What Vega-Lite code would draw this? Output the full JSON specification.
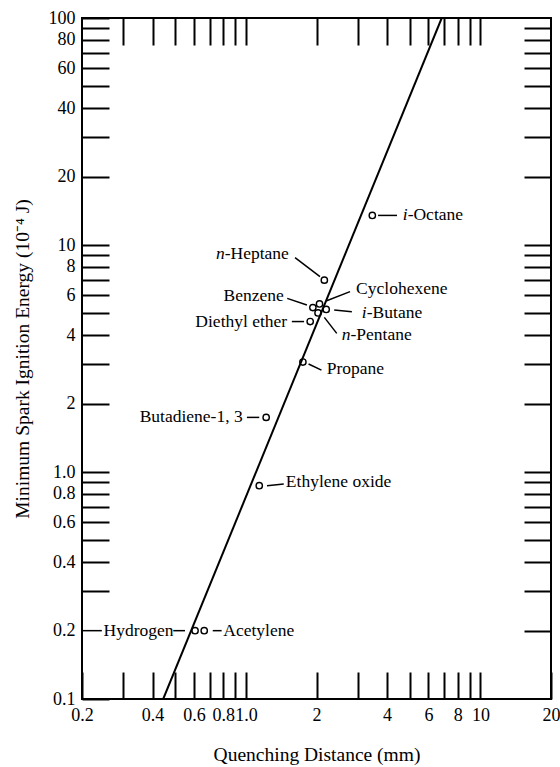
{
  "$schema": "https://vega.github.io/schema/vega-lite/v6.json",
  "width": 469,
  "height": 681,
  "autosize": "none",
  "padding": {"left": 82, "top": 18, "right": 9, "bottom": 68},
  "background": "white",
  "config": {
    "view": {"stroke": "#000", "strokeWidth": 2},
    "font": "Liberation Serif",
    "axis": {
      "domain": false,
      "grid": false,
      "tickColor": "#000",
      "tickWidth": 2,
      "labelColor": "#000",
      "labelFont": "Liberation Serif",
      "labelFontSize": 18,
      "labelFlush": false,
      "labelOverlap": false,
      "labelBound": false,
      "titleFont": "Liberation Serif",
      "titleFontWeight": "normal",
      "titleFontSize": 19.5,
      "titleColor": "#000"
    },
    "text": {"font": "Liberation Serif", "fontSize": 17.5, "color": "#000", "baseline": "middle"}
  },
  "datasets": {
    "fit": [
      {"d": 0.444, "E": 0.1},
      {"d": 6.84, "E": 100}
    ],
    "fuels": [
      {"fuel": "i-Octane", "d": 3.46, "E": 13.5},
      {"fuel": "n-Heptane", "d": 2.16, "E": 7.0},
      {"fuel": "Cyclohexene", "d": 2.06, "E": 5.5},
      {"fuel": "Benzene", "d": 1.93, "E": 5.3},
      {"fuel": "i-Butane", "d": 2.2, "E": 5.2},
      {"fuel": "n-Pentane", "d": 2.03, "E": 5.02},
      {"fuel": "Diethyl ether", "d": 1.88, "E": 4.6},
      {"fuel": "Propane", "d": 1.75, "E": 3.05},
      {"fuel": "Butadiene-1, 3", "d": 1.22, "E": 1.74},
      {"fuel": "Ethylene oxide", "d": 1.14, "E": 0.87},
      {"fuel": "Hydrogen", "d": 0.607, "E": 0.2},
      {"fuel": "Acetylene", "d": 0.664, "E": 0.2}
    ],
    "leaders": [
      {"fuel": "i-Octane", "x": 3.66, "y": 13.5, "x2": 4.41, "y2": 13.5},
      {"fuel": "n-Heptane", "x": 1.62, "y": 8.79, "x2": 2.07, "y2": 7.25},
      {"fuel": "Benzene", "x": 1.5, "y": 5.82, "x2": 1.82, "y2": 5.44},
      {"fuel": "Cyclohexene", "x": 2.78, "y": 6.23, "x2": 2.21, "y2": 5.68},
      {"fuel": "i-Butane", "x": 2.38, "y": 5.17, "x2": 2.83, "y2": 5.08},
      {"fuel": "Diethyl ether", "x": 1.57, "y": 4.6, "x2": 1.77, "y2": 4.6},
      {"fuel": "n-Pentane", "x": 2.16, "y": 4.8, "x2": 2.44, "y2": 4.08},
      {"fuel": "Propane", "x": 1.85, "y": 2.99, "x2": 2.1, "y2": 2.81},
      {"fuel": "Butadiene-1, 3", "x": 1.01, "y": 1.74, "x2": 1.14, "y2": 1.74},
      {"fuel": "Ethylene oxide", "x": 1.23, "y": 0.87, "x2": 1.45, "y2": 0.886},
      {"fuel": "Hydrogen", "x": 0.2, "y": 0.2, "x2": 0.243, "y2": 0.2},
      {"fuel": "Hydrogen", "x": 0.49, "y": 0.2, "x2": 0.55, "y2": 0.2},
      {"fuel": "Acetylene", "x": 0.722, "y": 0.2, "x2": 0.788, "y2": 0.2}
    ],
    "labels": [
      {"text": "Benzene", "lx": 1.45, "ly": 5.98, "side": "right"},
      {"text": "Diethyl ether", "lx": 1.5, "ly": 4.6, "side": "right"},
      {"text": "Butadiene-1, 3", "lx": 0.969, "ly": 1.74, "side": "right"},
      {"text": "Cyclohexene", "lx": 2.95, "ly": 6.38, "side": "left"},
      {"text": "Propane", "lx": 2.21, "ly": 2.83, "side": "left"},
      {"text": "Ethylene oxide", "lx": 1.48, "ly": 0.906, "side": "left"},
      {"text": "Hydrogen", "lx": 0.247, "ly": 0.2, "side": "left"},
      {"text": "Acetylene", "lx": 0.801, "ly": 0.2, "side": "left"}
    ],
    "isomers": [
      {"prefix": "i", "rest": "-Octane", "lx": 4.66, "ly": 13.5},
      {"prefix": "i", "rest": "-Butane", "lx": 3.12, "ly": 5.03},
      {"prefix": "n", "rest": "-Pentane", "lx": 2.56, "ly": 4.0},
      {"prefix": "n", "rest": "-Heptane", "lx": 0.745, "ly": 9.13}
    ]
  },
  "layer": [
    {
      "data": {"name": "fit"},
      "mark": {"type": "line", "color": "#000", "strokeWidth": 2, "clip": true},
      "encoding": {
        "x": {
          "field": "d", "type": "quantitative",
          "scale": {"type": "log", "domain": [0.2, 20], "nice": false},
          "axis": {
            "orient": "top", "title": null, "labels": false, "tickSize": -27,
            "values": [0.3, 0.4, 0.5, 0.6, 0.7, 0.8, 0.9, 1, 2, 3, 4, 5, 6, 7, 8, 9, 10]
          }
        },
        "y": {
          "field": "E", "type": "quantitative",
          "scale": {"type": "log", "domain": [0.1, 100], "nice": false},
          "axis": {
            "orient": "right", "title": null, "labels": false, "tickSize": -27,
            "values": [0.2, 0.3, 0.4, 0.5, 0.6, 0.7, 0.8, 0.9, 1, 2, 3, 4, 5, 6, 7, 8, 9, 10, 20, 30, 40, 50, 60, 70, 80, 90]
          }
        }
      }
    },
    {
      "data": {"name": "fuels"},
      "mark": {"type": "point", "shape": "circle", "filled": false, "stroke": "#000", "strokeWidth": 1.4, "size": 40, "opacity": 1},
      "encoding": {
        "x": {
          "field": "d", "type": "quantitative",
          "scale": {"type": "log", "domain": [0.2, 20], "nice": false},
          "axis": {
            "orient": "bottom", "title": "Quenching Distance (mm)", "tickSize": -27,
            "labelPadding": 34, "titlePadding": 21,
            "values": [0.2, 0.3, 0.4, 0.5, 0.6, 0.7, 0.8, 0.9, 1, 2, 3, 4, 5, 6, 7, 8, 9, 10, 20],
            "labelExpr": "datum.value == 1 ? '1.0' : (indexof([0.2, 0.4, 0.6, 0.8, 2, 4, 6, 8, 10, 20], datum.value) >= 0 ? '' + datum.value : '')"
          }
        },
        "y": {
          "field": "E", "type": "quantitative",
          "scale": {"type": "log", "domain": [0.1, 100], "nice": false},
          "axis": {
            "orient": "left", "title": "Minimum Spark Ignition Energy (10⁻⁴ J)", "tickSize": -27,
            "labelPadding": 34, "titlePadding": 16,
            "tickOpacity": {"condition": {"test": "datum.value == 0.2", "value": 0}, "value": 1},
            "values": [0.1, 0.2, 0.3, 0.4, 0.5, 0.6, 0.7, 0.8, 0.9, 1, 2, 3, 4, 5, 6, 7, 8, 9, 10, 20, 30, 40, 50, 60, 70, 80, 90, 100],
            "labelExpr": "datum.value == 1 ? '1.0' : (indexof([0.1, 0.2, 0.4, 0.6, 0.8, 2, 4, 6, 8, 10, 20, 40, 60, 80, 100], datum.value) >= 0 ? '' + datum.value : '')"
          }
        }
      }
    },
    {
      "data": {"name": "leaders"},
      "mark": {"type": "rule", "color": "#000", "strokeWidth": 1.5},
      "encoding": {
        "x": {"field": "x", "type": "quantitative", "scale": {"type": "log", "domain": [0.2, 20], "nice": false}, "axis": null},
        "y": {"field": "y", "type": "quantitative", "scale": {"type": "log", "domain": [0.1, 100], "nice": false}, "axis": null},
        "x2": {"field": "x2"},
        "y2": {"field": "y2"}
      }
    },
    {
      "data": {"name": "labels"},
      "transform": [{"filter": "datum.side == 'right'"}],
      "mark": {"type": "text", "align": "right"},
      "encoding": {
        "x": {"field": "lx", "type": "quantitative", "scale": {"type": "log", "domain": [0.2, 20], "nice": false}, "axis": null},
        "y": {"field": "ly", "type": "quantitative", "scale": {"type": "log", "domain": [0.1, 100], "nice": false}, "axis": null},
        "text": {"field": "text"}
      }
    },
    {
      "data": {"name": "labels"},
      "transform": [{"filter": "datum.side == 'left'"}],
      "mark": {"type": "text", "align": "left"},
      "encoding": {
        "x": {"field": "lx", "type": "quantitative", "scale": {"type": "log", "domain": [0.2, 20], "nice": false}, "axis": null},
        "y": {"field": "ly", "type": "quantitative", "scale": {"type": "log", "domain": [0.1, 100], "nice": false}, "axis": null},
        "text": {"field": "text"}
      }
    },
    {
      "data": {"name": "isomers"},
      "mark": {"type": "text", "align": "left", "fontStyle": "italic"},
      "encoding": {
        "x": {"field": "lx", "type": "quantitative", "scale": {"type": "log", "domain": [0.2, 20], "nice": false}, "axis": null},
        "y": {"field": "ly", "type": "quantitative", "scale": {"type": "log", "domain": [0.1, 100], "nice": false}, "axis": null},
        "text": {"field": "prefix"}
      }
    },
    {
      "data": {"name": "isomers"},
      "transform": [{"filter": "datum.prefix == 'i'"}],
      "mark": {"type": "text", "align": "left", "dx": 5},
      "encoding": {
        "x": {"field": "lx", "type": "quantitative", "scale": {"type": "log", "domain": [0.2, 20], "nice": false}, "axis": null},
        "y": {"field": "ly", "type": "quantitative", "scale": {"type": "log", "domain": [0.1, 100], "nice": false}, "axis": null},
        "text": {"field": "rest"}
      }
    },
    {
      "data": {"name": "isomers"},
      "transform": [{"filter": "datum.prefix == 'n'"}],
      "mark": {"type": "text", "align": "left", "dx": 8.8},
      "encoding": {
        "x": {"field": "lx", "type": "quantitative", "scale": {"type": "log", "domain": [0.2, 20], "nice": false}, "axis": null},
        "y": {"field": "ly", "type": "quantitative", "scale": {"type": "log", "domain": [0.1, 100], "nice": false}, "axis": null},
        "text": {"field": "rest"}
      }
    }
  ],
  "resolve": {"axis": {"x": "independent", "y": "independent"}}
}
